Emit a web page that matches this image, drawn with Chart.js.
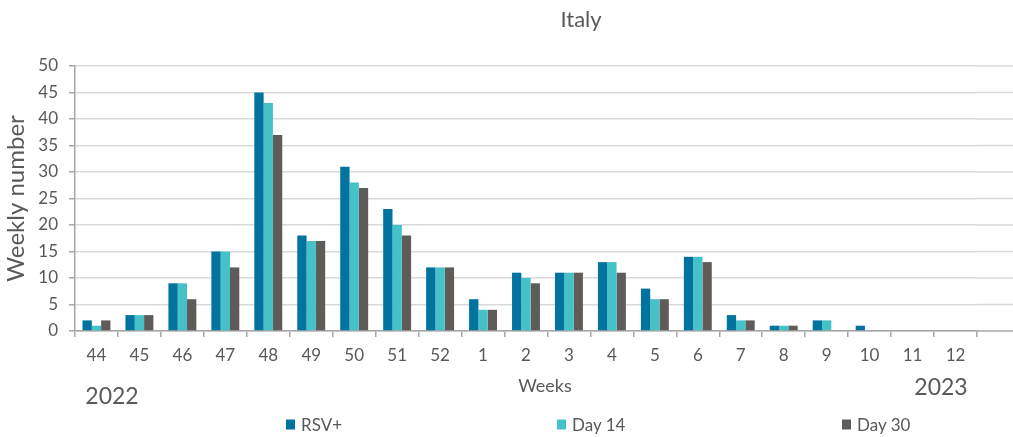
<!DOCTYPE html>
<html>
<head>
<meta charset="utf-8">
<script src="https://cdn.jsdelivr.net/npm/chart.js@4"></script>
<style>
  body { margin: 0; background: #fff; }
  #wrap { position: relative; width: 1013px; height: 437px; font-family: Lato, "Open Sans", sans-serif; color: #595959; }
  #wrap canvas { position: absolute; left: 0; top: 0; }
  .lbl { position: absolute; white-space: nowrap; transform: translate(-50%, -50%); }
  .leg { position: absolute; top: 424px; transform: translateY(-50%); font-size: 17px; display: flex; align-items: center; }
  .leg i { display: inline-block; width: 9px; height: 10px; margin-right: 6px; }
</style>
</head>
<body>
<div id="wrap">
  <canvas id="italyChart" width="1013" height="437"></canvas>
  <div class="lbl" style="left:581px;top:18px;font-size:22px;">Italy</div>
  <div class="lbl" style="left:545px;top:385px;font-size:18px;">Weeks</div>
  <div class="lbl" style="left:112px;top:395px;font-size:23px;">2022</div>
  <div class="lbl" style="left:941px;top:386px;font-size:23px;">2023</div>
  <div id="legend"></div>
</div>
<script>
// Weekly counts, week 44 of 2022 to week 12 of 2023
const weeks = ['44', '45', '46', '47', '48', '49', '50', '51', '52', '1', '2', '3', '4', '5', '6', '7', '8', '9', '10', '11', '12'];
const rsvPositive = [2, 3, 9, 15, 45, 18, 31, 23, 12, 6, 11, 11, 13, 8, 14, 3, 1, 2, 1, 0, 0];
const day14 = [1, 3, 9, 15, 43, 17, 28, 20, 12, 4, 10, 11, 13, 6, 14, 2, 1, 2, 0, 0, 0];
const day30 = [2, 3, 6, 12, 37, 17, 27, 18, 12, 4, 9, 11, 11, 6, 13, 2, 1, 0, 0, 0, 0];

const gridColor = '#d9d9d9';
const axisColor = '#a6a6a6';

// horizontal gridlines run on past the last category up to the edge
const extendGrid = {
    id: 'extendGrid',
    beforeDatasetsDraw(chart) {
        const ctx = chart.ctx;
        const y = chart.scales.y;
        ctx.save();
        y.ticks.forEach(function(t) {
            const py = y.getPixelForValue(t.value);
            ctx.strokeStyle = t.value === 0 ? axisColor : gridColor;
            ctx.lineWidth = t.value === 0 ? 1.5 : 1.5;
            ctx.beginPath();
            ctx.moveTo(chart.chartArea.right, py);
            ctx.lineTo(chart.width, py);
            ctx.stroke();
        });
        ctx.restore();
    }
};

document.addEventListener('DOMContentLoaded', function() {
    const el = document.getElementById('italyChart');

    const chart = new Chart(el, {
        type: 'bar',
        data: {
            labels: weeks,
            datasets: [
                { label: 'RSV+', data: rsvPositive, backgroundColor: '#00739e' },
                { label: 'Day 14', data: day14, backgroundColor: '#45c2c8' },
                { label: 'Day 30', data: day30, backgroundColor: '#5f5b58' }
            ]
        },
        options: {
            responsive: false,
            animation: false,
            layout: { padding: { top: 66, right: 36, bottom: 0, left: 0 } },
            datasets: { bar: { barPercentage: 1, categoryPercentage: 0.65 } },
            plugins: {
                legend: { display: false },
                tooltip: { enabled: false }
            },
            scales: {
                x: {
                    afterFit(scale) { scale.height = 106; },
                    grid: { offset: true, drawOnChartArea: false, tickLength: 6, tickColor: axisColor, lineWidth: 1.5 },
                    border: { color: axisColor, width: 1.5 },
                    ticks: { color: '#595959', font: { family: 'Lato', size: 17 }, padding: 8, maxRotation: 0, autoSkip: false }
                },
                y: {
                    min: 0,
                    max: 50,
                    afterFit(scale) { scale.width = 75; },
                    grid: { color: gridColor, lineWidth: 1.5, tickLength: 6, tickColor: axisColor },
                    border: { color: axisColor, width: 1.5 },
                    ticks: { stepSize: 5, color: '#595959', font: { family: 'Lato', size: 17 }, padding: 11 },
                    title: { display: true, text: 'Weekly number', color: '#595959', font: { family: 'Lato', size: 24 }, padding: { top: 2, bottom: 0 } }
                }
            }
        },
        plugins: [extendGrid]
    });

    // legend spread out along the bottom like the original
    const legendLeft = [286, 557, 842];
    const legend = document.getElementById('legend');
    chart.data.datasets.forEach(function(ds, i) {
        const item = document.createElement('div');
        item.className = 'leg';
        item.style.left = legendLeft[i] + 'px';
        item.innerHTML = '<i style="background:' + ds.backgroundColor + '"></i>' + ds.label;
        legend.appendChild(item);
    });
});
</script>
</body>
</html>
